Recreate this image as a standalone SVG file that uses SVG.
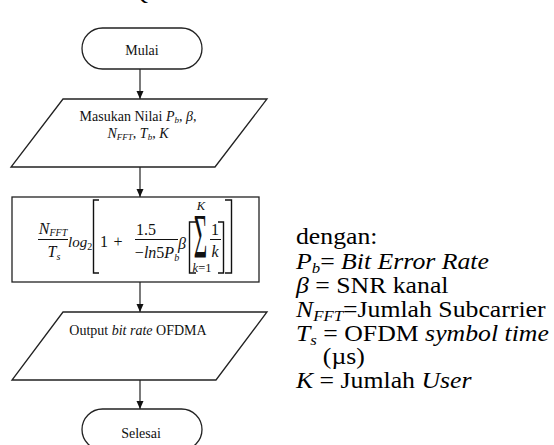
<svg xmlns="http://www.w3.org/2000/svg" width="554" height="445" viewBox="0 0 554 445">
  <defs>
    <marker id="arrow" viewBox="0 0 8 10" refX="8" refY="5" markerWidth="8" markerHeight="10" markerUnits="userSpaceOnUse" orient="auto">
      <path d="M0,1.5 L8,5 L0,8.5 Z" fill="#111"/>
    </marker>
  </defs>
  <style>
    .shape { fill: #fff; stroke: #222; stroke-width: 1.3; }
    .edge { fill: none; stroke: #222; stroke-width: 1.2; marker-end: url(#arrow); }
    .lbl { font-family: "Liberation Serif", "Times New Roman", serif; font-size: 14px; fill: #111; }
    .math { font-family: "Liberation Serif", "Times New Roman", serif; font-size: 16px; fill: #111; font-style: italic; }
    .small { font-size: 12.5px; }
    .big { font-size: 48px; }
    .up { font-style: normal; }
    .rule { stroke: #111; stroke-width: 1; }
    .delim { fill: none; stroke: #111; stroke-width: 1.4; }
    .it { font-style: italic; }
    .note { font-family: "Liberation Serif", "Times New Roman", serif; font-size: 23px; fill: #000; }
    .sub { font-size: 15px; font-style: italic; }
  </style>

  <rect width="554" height="445" fill="#fff"/>

  <!-- heading letter cut at the top edge -->
  <text x="140" y="0" text-anchor="middle" font-family="Liberation Serif, serif" font-size="22" fill="#000">Q</text>

  <!-- connectors -->
  <g id="connectors">
    <line class="edge" x1="140" y1="69" x2="140" y2="99"/>
    <line class="edge" x1="140" y1="167" x2="140" y2="197"/>
    <line class="edge" x1="140" y1="282" x2="140" y2="312"/>
    <line class="edge" x1="140" y1="380" x2="140" y2="409"/>
  </g>

  <!-- start -->
  <g id="start">
    <rect class="shape" x="82" y="28" width="120" height="41" rx="20.5" ry="20.5"/>
    <text class="lbl" x="142" y="55" text-anchor="middle">Mulai</text>
  </g>

  <!-- input parameters -->
  <g id="input">
    <polygon class="shape" points="63,99 267,99 215,167 11,167"/>
    <text class="lbl" x="138" y="121" text-anchor="middle">Masukan Nilai <tspan class="it">P</tspan><tspan class="it" font-size="9" dy="2">b</tspan><tspan dy="-2">, </tspan><tspan class="it">β</tspan>,</text>
    <text class="lbl" x="138" y="138" text-anchor="middle"><tspan class="it">N</tspan><tspan class="it" font-size="9" dy="2">FFT</tspan><tspan dy="-2">, </tspan><tspan class="it">T</tspan><tspan class="it" font-size="9" dy="2">b</tspan><tspan dy="-2">, </tspan><tspan class="it">K</tspan></text>
  </g>

  <!-- bit rate formula -->
  <g id="formula">
    <rect class="shape" x="12" y="197" width="247" height="85"/>
    <text class="math" x="53" y="234" text-anchor="middle">N<tspan font-size="10" dy="2">FFT</tspan></text>
    <line class="rule" x1="38" y1="239.5" x2="68" y2="239.5"/>
    <text class="math" x="54" y="257" text-anchor="middle">T<tspan font-size="10" dy="3">s</tspan></text>
    <text class="math" x="68" y="247" style="font-size:15px">log<tspan class="up" font-size="10" dy="3">2</tspan></text>
    <path class="delim" d="M99,200 H93.5 V273 H99"/>
    <text class="math up" x="104" y="247" text-anchor="middle">1</text>
    <text class="math up" x="118" y="247" text-anchor="middle">+</text>
    <text class="math up" x="146" y="235" text-anchor="middle">1.5</text>
    <line class="rule" x1="135" y1="239.5" x2="178" y2="239.5"/>
    <text class="math" x="157" y="258" text-anchor="middle"><tspan class="up">−</tspan>ln<tspan class="up">5</tspan>P<tspan font-size="10" dy="3">b</tspan></text>
    <text class="math" x="182" y="249" text-anchor="middle">β</text>
    <path class="delim" d="M196,222 H189.5 V273 H196"/>
    <text class="math small" x="201" y="210" text-anchor="middle">K</text>
    <text class="math up big" x="0" y="0" text-anchor="middle" transform="translate(200.5,258) scale(0.48,1.3)">Σ</text>
    <text class="math small" x="202" y="272" text-anchor="middle">k<tspan class="up">=1</tspan></text>
    <text class="math up" x="215" y="235" text-anchor="middle">1</text>
    <line class="rule" x1="210" y1="239.5" x2="221" y2="239.5"/>
    <text class="math" x="215" y="257" text-anchor="middle">k</text>
    <path class="delim" d="M218,222 H223.5 V273 H218"/>
    <path class="delim" d="M225,200 H231.5 V273 H225"/>
  </g>

  <!-- output -->
  <g id="output">
    <polygon class="shape" points="63,312 267,312 216,380 12,380"/>
    <text class="lbl" x="138" y="335" text-anchor="middle">Output <tspan class="it">bit rate</tspan> OFDMA</text>
  </g>

  <!-- end -->
  <g id="end">
    <rect class="shape" x="82" y="409" width="120" height="41" rx="20.5" ry="20.5"/>
    <text class="lbl" x="141" y="438" text-anchor="middle">Selesai</text>
  </g>

  <!-- legend -->
  <g id="legend" transform="translate(296,0) scale(1.12,1)">
    <text class="note" x="0" y="244">dengan:</text>
    <text class="note" x="0" y="269"><tspan class="it">P</tspan><tspan class="sub" dy="4">b</tspan><tspan dy="-4">= </tspan><tspan class="it">Bit Error Rate</tspan></text>
    <text class="note" x="0" y="293"><tspan class="it">β</tspan> = SNR kanal</text>
    <text class="note" x="0" y="317"><tspan class="it">N</tspan><tspan class="sub" dy="4">FFT</tspan><tspan dy="-4">=Jumlah Subcarrier</tspan></text>
    <text class="note" x="0" y="341"><tspan class="it">T</tspan><tspan class="sub" dy="4">s</tspan><tspan dy="-4"> = OFDM </tspan><tspan class="it">symbol time</tspan></text>
    <text class="note" x="24" y="364">(µs)</text>
    <text class="note" x="0" y="388"><tspan class="it">K</tspan> = Jumlah <tspan class="it">User</tspan></text>
  </g>
</svg>
